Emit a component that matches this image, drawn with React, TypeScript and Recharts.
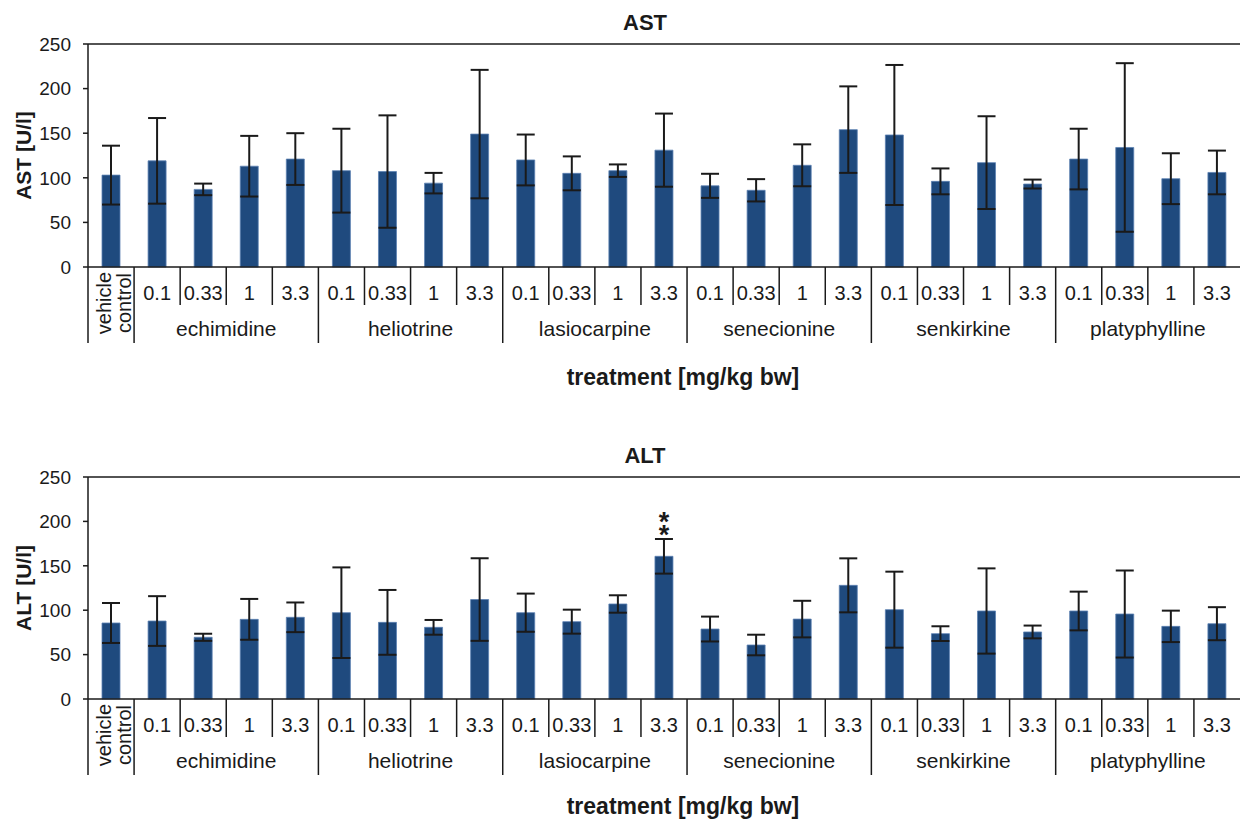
import { Bar, BarChart, ErrorBar, LabelList, ReferenceLine, XAxis, YAxis } from "recharts";

const compounds = ["echimidine", "heliotrine", "lasiocarpine", "senecionine", "senkirkine", "platyphylline"];
const doses = ["0.1", "0.33", "1", "3.3"];
const yTicks = [0, 50, 100, 150, 200, 250];

// AST [U/l], mean and SD, vehicle control first, then compounds x doses
const astMean = [103, 119, 87, 113, 121, 108, 107, 94, 149, 120, 105, 108, 131, 91, 86, 114, 154, 148, 96, 117, 93, 121, 134, 99, 106];
const astSd = [33, 48, 6.5, 34, 29, 47, 63, 11.5, 72, 28.5, 19, 7, 41, 13.5, 12.5, 23.5, 48.5, 78.5, 14.5, 52, 5, 34, 94.5, 28.5, 24.5];

// ALT [U/l]
const altMean = [85.6, 87.8, 69.5, 89.7, 92, 97.2, 86.3, 80.7, 112, 97.2, 87.1, 107, 160.7, 78.8, 60.8, 90, 128, 100.6, 73.6, 99.1, 75.5, 99.1, 95.7, 81.8, 84.8];
const altSd = [22.5, 28, 4, 23, 16.7, 51, 36.5, 8.3, 46.5, 21.5, 13.5, 9.8, 19.5, 14, 11.6, 20.6, 30.4, 42.8, 8.3, 48, 7.2, 21.8, 49, 17.7, 18.6];
const altSig = ["", "", "", "", "", "", "", "", "", "", "", "", "**", "", "", "", "", "", "", "", "", "", "", "", ""];

const FONT = '"Liberation Sans", Arial, Helvetica, sans-serif';
const INK = "#1a1a1a";
const BAR = "#1f4a7e";
const WIDTH = 1240;
const Y_AXIS_W = 88;

const rows = [
  { group: "vehicle control", dose: "" },
  ...compounds.flatMap((g) => doses.map((d) => ({ group: g, dose: d }))),
];
const BAND = (WIDTH - Y_AXIS_W) / rows.length;

function buildData(mean: number[], sd: number[], sig?: string[]) {
  return rows.map((r, i) => ({
    name: r.dose ? `${r.group} ${r.dose}` : r.group,
    mean: mean[i],
    sd: sd[i],
    sig: sig ? sig[i] : "",
  }));
}

const astData = buildData(astMean, astSd);
const altData = buildData(altMean, altSd, altSig);

function CategoryTick(props: any) {
  const { x, y, index } = props;
  const half = BAND / 2;
  const ln = { stroke: INK, strokeWidth: 1.5 };
  if (index === 0) {
    return (
      <g>
        <line x1={x - half} x2={x - half} y1={y} y2={y + 76} {...ln} />
        <text
          transform={`translate(${x - 7.5},${y + 36}) rotate(-90)`}
          textAnchor="middle"
          dominantBaseline="central"
          fontSize={20}
          fontFamily={FONT}
          fill={INK}
        >
          vehicle
        </text>
        <text
          transform={`translate(${x + 13},${y + 36}) rotate(-90)`}
          textAnchor="middle"
          dominantBaseline="central"
          fontSize={20}
          fontFamily={FONT}
          fill={INK}
        >
          control
        </text>
      </g>
    );
  }
  const row = rows[index];
  const di = doses.indexOf(row.dose);
  return (
    <g>
      <line x1={x - half} x2={x - half} y1={y} y2={y + (di === 0 ? 76 : 38)} {...ln} />
      <text x={x} y={y + 33} textAnchor="middle" fontSize={20} fontFamily={FONT} fill={INK}>
        {row.dose}
      </text>
      {di === 2 && (
        <text x={x - half} y={y + 69} textAnchor="middle" fontSize={21} fontFamily={FONT} fill={INK}>
          {row.group}
        </text>
      )}
    </g>
  );
}

// significance marks, stacked vertically above the error bar
function SigLabel(props: any) {
  const { x, y, width, height, value, index } = props;
  if (!value) return null;
  const row = altData[index];
  const perUnit = height / row.mean;
  const top = y - row.sd * perUnit;
  const cx = x + width / 2;
  return (
    <text
      x={cx}
      y={top - 19}
      textAnchor="middle"
      fontSize={27}
      fontWeight="bold"
      fontFamily={FONT}
      fill={INK}
      letterSpacing={-17}
      style={{ writingMode: "vertical-rl", textOrientation: "upright" } as any}
    >
      {value}
    </text>
  );
}

function Panel({
  data,
  title,
  yLabel,
  top,
  xHeight,
  titleBase,
  treatBase,
  withSig,
}: {
  data: any[];
  title: string;
  yLabel: string;
  top: number;
  xHeight: number;
  titleBase: number;
  treatBase: number;
  withSig?: boolean;
}) {
  return (
    <BarChart
      width={WIDTH}
      height={412}
      data={data}
      margin={{ top, right: 0, left: 0, bottom: 0 }}
      barSize={18}
    >
      <ReferenceLine
        y={250}
        stroke={INK}
        strokeWidth={1.5}
        label={(p: any) => {
          const vb = p.viewBox;
          return (
            <text
              x={vb.x + vb.width / 2 - 19}
              y={titleBase}
              textAnchor="middle"
              fontSize={22}
              fontWeight="bold"
              fontFamily={FONT}
              fill={INK}
            >
              {title}
            </text>
          );
        }}
      />
      <XAxis
        dataKey="name"
        interval={0}
        height={xHeight}
        tickLine={false}
        tickSize={0}
        tickMargin={0}
        axisLine={{ stroke: INK, strokeWidth: 1.5 }}
        tick={(p: any) => <CategoryTick {...p} />}
        label={(p: any) => {
          const vb = p.viewBox;
          return (
            <text
              x={vb.x + vb.width / 2 + 19}
              y={vb.y + treatBase}
              textAnchor="middle"
              fontSize={23}
              fontWeight="bold"
              fontFamily={FONT}
              fill={INK}
            >
              treatment [mg/kg bw]
            </text>
          );
        }}
      />
      <YAxis
        width={Y_AXIS_W}
        domain={[0, 250]}
        ticks={yTicks}
        interval={0}
        tickSize={5}
        tickMargin={12}
        tickLine={{ stroke: INK, strokeWidth: 1.5 }}
        axisLine={{ stroke: INK, strokeWidth: 1.5 }}
        tick={{ fontSize: 19, fontFamily: FONT, fill: INK }}
        label={(p: any) => {
          const vb = p.viewBox;
          const cy = vb.y + vb.height / 2;
          return (
            <text
              transform={`translate(23,${cy}) rotate(-90)`}
              textAnchor="middle"
              dominantBaseline="central"
              fontSize={21}
              fontWeight="bold"
              fontFamily={FONT}
              fill={INK}
            >
              {yLabel}
            </text>
          );
        }}
      />
      <Bar dataKey="mean" fill={BAR} stroke="#5d82b3" strokeWidth={0.8} isAnimationActive={false}>
        <ErrorBar dataKey="sd" width={9} stroke={INK} strokeWidth={2} direction="y" />
        {withSig && <LabelList dataKey="sig" content={SigLabel} />}
      </Bar>
    </BarChart>
  );
}

export default function App() {
  return (
    <div style={{ width: WIDTH, height: 824, background: "#fff" }}>
      <style>{"body{margin:0;background:#fff}"}</style>
      <Panel data={astData} title="AST" yLabel="AST [U/l]" top={44} xHeight={145} titleBase={30} treatBase={118} />
      <Panel
        data={altData}
        title="ALT"
        yLabel="ALT [U/l]"
        top={65}
        xHeight={125}
        titleBase={51}
        treatBase={115}
        withSig
      />
    </div>
  );
}
